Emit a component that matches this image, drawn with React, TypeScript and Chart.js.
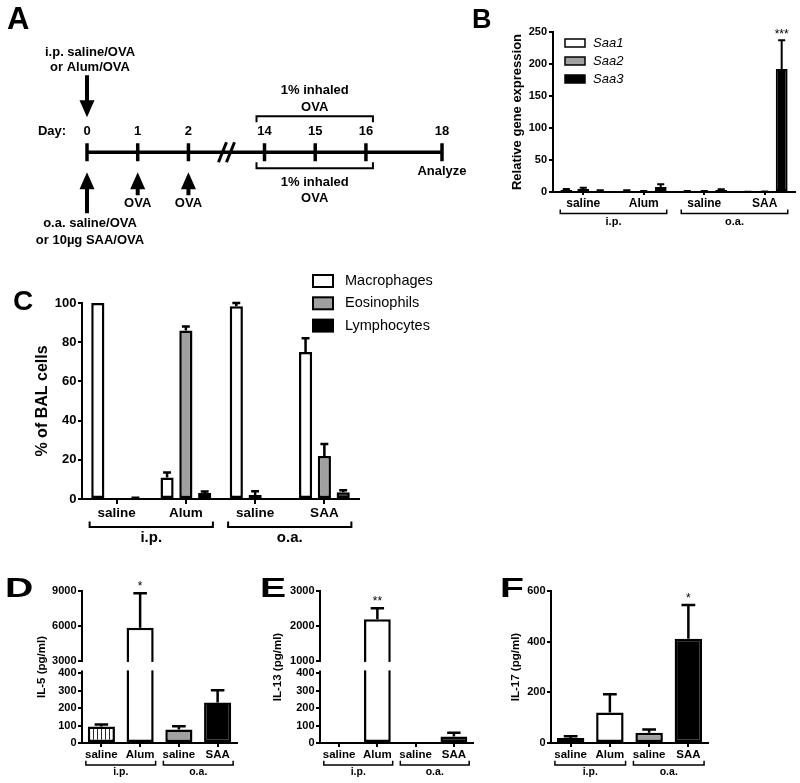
import React, { useEffect, useRef } from 'react';
import { Chart, registerables, LinearScale } from 'chart.js';

Chart.register(...registerables);

const FONT = '"Liberation Sans", Arial, Helvetica, sans-serif';
Chart.defaults.font.family = FONT;
Chart.defaults.color = '#000';

const BLACK = '#000000';
const GREY = '#a0a0a0';
const WHITE = '#ffffff';

/* ================= A: protocol timeline ================= */
const dayLabels = ['0', '1', '2', '14', '15', '16', '18'];
const dayPositions = [0, 1, 2, 3.5, 4.5, 5.5, 7];
const dayAxisLabel = 'Day:';
const ipNote = ['i.p. saline/OVA', 'or Alum/OVA'];
const oaNote = ['o.a. saline/OVA', 'or 10µg SAA/OVA'];
const boostDays = [1, 2];
const boostLabel = 'OVA';
const challengeSpan = [3, 5];
const challengeLabel = ['1% inhaled', 'OVA'];
const analyzeLabel = 'Analyze';

/* ================= shared categories ================= */
const categories = ['saline', 'Alum', 'saline', 'SAA'];
const groupLabels = ['i.p.', 'o.a.'];
const groupSpans = [
  [0, 1],
  [2, 3],
];

/* ================= B: Saa gene expression ================= */
const bSeries = ['Saa1', 'Saa2', 'Saa3'];
const bSaa1 = [3, 2, 1, 0.3];
const bSaa1Err = [1.5, 0.8, 0.4, 0.2];
const bSaa2 = [4.5, 1, 1, 0.6];
const bSaa2Err = [2, 0.5, 0.4, 0.3];
const bSaa3 = [2, 8, 3, 192];
const bSaa3Err = [0.8, 4, 1.2, 45];
const bStars = ['', '', '', '***'];
const bYMax = 250;
const bYStep = 50;
const bYTitle = 'Relative gene expression';

/* ================= C: BAL cells ================= */
const cSeries = ['Macrophages', 'Eosinophils', 'Lymphocytes'];
const cMac = [100, 11, 98.3, 75];
const cMacErr = [0, 2.5, 1.7, 7];
const cEos = [0, 86, 2, 22];
const cEosErr = [0, 2, 2, 6];
const cLym = [0.4, 3, 0, 3.5];
const cLymErr = [0.2, 0.8, 0, 1];
const cYMax = 100;
const cYStep = 20;
const cYTitle = '% of BAL cells';

/* ================= D: IL-5 ================= */
const dValues = [95, 5850, 78, 233];
const dErr = [11, 2950, 18, 70];
const dStars = ['', '*', '', ''];
const dLowerTicks = [0, 100, 200, 300, 400];
const dUpperTicks = [3000, 6000, 9000];
const dYTitle = 'IL-5 (pg/ml)';

/* ================= E: IL-13 ================= */
const eValues = [0, 2190, 0, 38];
const eErr = [0, 320, 0, 21];
const eStars = ['', '**', '', ''];
const eLowerTicks = [0, 100, 200, 300, 400];
const eUpperTicks = [1000, 2000, 3000];
const eYTitle = 'IL-13 (pg/ml)';

/* ================= F: IL-17 ================= */
const fValues = [20, 120, 40, 412];
const fErr = [7, 72, 13, 133];
const fStars = ['', '', '', '*'];
const fYMax = 600;
const fYStep = 200;
const fYTitle = 'IL-17 (pg/ml)';

/* ================= broken linear scale ================= */
class BrokenLinearScale extends LinearScale {
  static id = 'brokenLinear';
  static defaults = LinearScale.defaults;
  buildTicks() {
    const o: any = this.options;
    return (o.breakTicks as number[]).map((v) => ({ value: v }));
  }
  _seg() {
    const o: any = this.options;
    return {
      lo: o.lowerRange as number[],
      up: o.upperRange as number[],
      lf: o.lowerFrac as number,
      uf: o.upperFrac as number,
    };
  }
  getPixelForValue(value: number) {
    const { lo, up, lf, uf } = this._seg();
    const H = this.bottom - this.top;
    const lowH = H * lf;
    const upH = H * uf;
    const gapH = H - lowH - upH;
    if (value <= lo[1]) return this.bottom - ((value - lo[0]) / (lo[1] - lo[0])) * lowH;
    if (value >= up[0]) return this.top + ((up[1] - value) / (up[1] - up[0])) * upH;
    return this.bottom - lowH - ((value - lo[1]) / (up[0] - lo[1])) * gapH;
  }
  getValueForPixel(pixel: number) {
    const { lo, up, lf, uf } = this._seg();
    const H = this.bottom - this.top;
    const lowH = H * lf;
    const upH = H * uf;
    const gapH = H - lowH - upH;
    const fb = this.bottom - pixel;
    if (fb <= lowH) return lo[0] + (fb / lowH) * (lo[1] - lo[0]);
    if (fb >= lowH + gapH) return up[1] - ((pixel - this.top) / upH) * (up[1] - up[0]);
    return lo[1] + ((fb - lowH) / gapH) * (up[0] - lo[1]);
  }
}
Chart.register(BrokenLinearScale as any);

/* ================= helpers ================= */
type Frame = { w: number; h: number; left: number; right: number; top: number; bottom: number };

function hatchPattern(): any {
  const c = document.createElement('canvas');
  c.width = 4;
  c.height = 4;
  const g = c.getContext('2d')!;
  g.fillStyle = WHITE;
  g.fillRect(0, 0, 4, 4);
  g.fillStyle = '#2a2a2a';
  g.fillRect(1, 0, 1, 4);
  return g.createPattern(c, 'repeat') || WHITE;
}

function letterPlugin(letter: string, x: number, baseline: number, size: number, sx = 1) {
  return {
    id: 'panelLetter',
    afterDraw(chart: any) {
      const ctx = chart.ctx;
      ctx.save();
      ctx.font = `bold ${size}px ${FONT}`;
      ctx.fillStyle = BLACK;
      ctx.textAlign = 'left';
      ctx.textBaseline = 'alphabetic';
      ctx.translate(x, baseline);
      ctx.scale(sx, 1);
      ctx.fillText(letter, 0, 0);
      ctx.restore();
    },
  };
}

function legendPlugin(cfg: {
  x: number;
  y0: number;
  dy: number;
  boxW: number;
  boxH: number;
  textX: number;
  font: string;
  lw: number;
}) {
  return {
    id: 'customLegend',
    afterDraw(chart: any) {
      const ctx = chart.ctx;
      ctx.save();
      chart.data.datasets.forEach((ds: any, i: number) => {
        const cy = cfg.y0 + i * cfg.dy;
        ctx.fillStyle = ds.backgroundColor;
        ctx.fillRect(cfg.x, cy - cfg.boxH / 2, cfg.boxW, cfg.boxH);
        ctx.lineWidth = cfg.lw;
        ctx.strokeStyle = BLACK;
        ctx.strokeRect(cfg.x, cy - cfg.boxH / 2, cfg.boxW, cfg.boxH);
        ctx.fillStyle = BLACK;
        ctx.font = cfg.font;
        ctx.textAlign = 'left';
        ctx.textBaseline = 'middle';
        ctx.fillText(ds.label, cfg.textX, cy);
      });
      ctx.restore();
    },
  };
}

function errorPlugin(cfg: {
  capFrac: number;
  lw: number;
  starFont: string;
  starGap: number;
  broken?: { lowerEnd: number; upperStart: number };
}) {
  return {
    id: 'errorBars',
    afterDatasetsDraw(chart: any) {
      const ctx = chart.ctx;
      const y = chart.scales.y;
      const area = chart.chartArea;
      ctx.save();
      if (cfg.broken) {
        const gTop = y.getPixelForValue(cfg.broken.upperStart);
        const gBot = y.getPixelForValue(cfg.broken.lowerEnd);
        ctx.fillStyle = WHITE;
        ctx.fillRect(area.left + 1.5, gTop + 1, area.right - area.left, gBot - gTop - 4);
        ctx.strokeStyle = BLACK;
        ctx.lineWidth = 2;
        ctx.beginPath();
        ctx.moveTo(area.left, area.top - 1);
        ctx.lineTo(area.left, gTop + 1);
        ctx.moveTo(area.left, gBot - 3);
        ctx.lineTo(area.left, area.bottom + 1);
        ctx.stroke();
      }
      ctx.strokeStyle = BLACK;
      ctx.fillStyle = BLACK;
      ctx.lineWidth = cfg.lw;
      chart.data.datasets.forEach((ds: any, di: number) => {
        const meta = chart.getDatasetMeta(di);
        meta.data.forEach((el: any, j: number) => {
          const v = ds.data[j];
          const e = ds.errors ? ds.errors[j] : 0;
          if (v == null) return;
          const top = y.getPixelForValue(v + (e || 0));
          if (e > 0) {
            const cap = el.width * cfg.capFrac;
            ctx.beginPath();
            ctx.moveTo(el.x, el.y);
            ctx.lineTo(el.x, top);
            ctx.moveTo(el.x - cap / 2, top);
            ctx.lineTo(el.x + cap / 2, top);
            ctx.stroke();
          }
          const s = ds.stars ? ds.stars[j] : '';
          if (s) {
            ctx.font = cfg.starFont;
            ctx.textAlign = 'center';
            ctx.textBaseline = 'alphabetic';
            ctx.fillText(s, el.x, top - cfg.starGap);
          }
        });
      });
      ctx.restore();
    },
  };
}

function bracketPlugin(cfg: { endTop: number; line: number; label: number; inset: number; font: string; lw: number }) {
  return {
    id: 'groupBrackets',
    afterDraw(chart: any) {
      const ctx = chart.ctx;
      const x = chart.scales.x;
      const base = chart.chartArea.bottom;
      const step = x.getPixelForValue(1) - x.getPixelForValue(0);
      ctx.save();
      ctx.strokeStyle = BLACK;
      ctx.fillStyle = BLACK;
      ctx.lineWidth = cfg.lw;
      ctx.font = cfg.font;
      ctx.textAlign = 'center';
      ctx.textBaseline = 'middle';
      groupSpans.forEach(([a, b], i) => {
        const x0 = x.getPixelForValue(a) - cfg.inset * step;
        const x1 = x.getPixelForValue(b) + cfg.inset * step;
        ctx.beginPath();
        ctx.moveTo(x0, base + cfg.endTop);
        ctx.lineTo(x0, base + cfg.line);
        ctx.lineTo(x1, base + cfg.line);
        ctx.lineTo(x1, base + cfg.endTop);
        ctx.stroke();
        ctx.fillText(groupLabels[i], (x0 + x1) / 2, base + cfg.label);
      });
      ctx.restore();
    },
  };
}

function xAxis(frame: Frame, catSize: number, tickLen: number, pad: number) {
  return {
    type: 'category',
    offset: true,
    grid: {
      display: true,
      drawOnChartArea: false,
      drawTicks: true,
      tickLength: tickLen,
      offset: false,
      color: BLACK,
      lineWidth: 2,
    },
    border: { display: true, color: BLACK, width: 2 },
    ticks: { color: BLACK, font: { size: catSize, weight: 'bold' }, padding: pad, maxRotation: 0, autoSkip: false },
    afterFit: (s: any) => {
      s.height = frame.h - frame.bottom;
    },
  };
}

function yAxis(
  frame: Frame,
  base: any,
  title: string,
  titleSize: number,
  titleX: number,
  tickSize: number,
  tickLen: number,
  tickPad: number,
  borderOn = true
) {
  const lh = titleSize * 1.2;
  return {
    ...base,
    grid: {
      display: true,
      drawOnChartArea: false,
      drawTicks: true,
      tickLength: tickLen,
      color: BLACK,
      lineWidth: 2,
    },
    border: { display: borderOn, color: BLACK, width: 2 },
    ticks: {
      ...(base.ticks || {}),
      color: BLACK,
      font: { size: tickSize, weight: 'bold' },
      padding: tickPad,
      autoSkip: false,
    },
    title: {
      display: true,
      text: title,
      color: BLACK,
      font: { size: titleSize, weight: 'bold' },
      padding: { top: titleX - lh / 2, bottom: 0 },
    },
    afterFit: (s: any) => {
      s.width = frame.left;
    },
  };
}

function baseOptions(frame: Frame, scales: any) {
  return {
    responsive: false,
    animation: false,
    events: [],
    layout: { padding: { left: 0, top: frame.top, right: frame.w - frame.right, bottom: 0 } },
    plugins: { legend: { display: false }, tooltip: { enabled: false } },
    scales,
  };
}

/* ================= A config ================= */
function arrow(ctx: any, x: number, yTail: number, yTip: number) {
  const headLen = 17;
  const headW = 15;
  const dir = Math.sign(yTip - yTail);
  const yBase = yTip - dir * headLen;
  ctx.lineWidth = 4;
  ctx.beginPath();
  ctx.moveTo(x, yTail);
  ctx.lineTo(x, yBase + dir * 2);
  ctx.stroke();
  ctx.beginPath();
  ctx.moveTo(x - headW / 2, yBase);
  ctx.lineTo(x + headW / 2, yBase);
  ctx.lineTo(x, yTip);
  ctx.closePath();
  ctx.fill();
}

function makeA() {
  const timeline = {
    id: 'timelineNotes',
    afterDatasetsDraw(chart: any) {
      const ctx = chart.ctx;
      const xs = chart.scales.x;
      const ys = chart.scales.y;
      const X = (i: number) => xs.getPixelForValue(dayPositions[i]);
      const y0 = ys.getPixelForValue(0);
      ctx.save();
      ctx.fillStyle = BLACK;
      ctx.strokeStyle = BLACK;
      ctx.font = `bold 13px ${FONT}`;
      ctx.textAlign = 'center';
      ctx.textBaseline = 'middle';
      dayLabels.forEach((d, i) => ctx.fillText(d, X(i), y0 - 21));
      ctx.fillText(dayAxisLabel, X(0) - 35, y0 - 21);
      // break marks
      const xb = (X(2) + X(3)) / 2;
      ctx.lineWidth = 3;
      [-4, 4].forEach((dx) => {
        ctx.beginPath();
        ctx.moveTo(xb + dx - 4, y0 + 10);
        ctx.lineTo(xb + dx + 4, y0 - 10);
        ctx.stroke();
      });
      // i.p. arrow & note
      arrow(ctx, X(0), y0 - 77, y0 - 35);
      ctx.fillText(ipNote[0], X(0) + 3, y0 - 100);
      ctx.fillText(ipNote[1], X(0) + 3, y0 - 85);
      // o.a. arrow & note
      arrow(ctx, X(0), y0 + 61, y0 + 20);
      ctx.fillText(oaNote[0], X(0) + 3, y0 + 71);
      ctx.fillText(oaNote[1], X(0) + 3, y0 + 88);
      // boosts
      boostDays.forEach((i) => {
        arrow(ctx, X(i), y0 + 43, y0 + 20);
        ctx.fillText(boostLabel, X(i), y0 + 51);
      });
      // challenge brackets
      const cx0 = X(challengeSpan[0]) - 8;
      const cx1 = X(challengeSpan[1]) + 7;
      const cMid = (cx0 + cx1) / 2;
      ctx.lineWidth = 2;
      ctx.beginPath();
      ctx.moveTo(cx0, y0 - 30);
      ctx.lineTo(cx0, y0 - 36);
      ctx.lineTo(cx1, y0 - 36);
      ctx.lineTo(cx1, y0 - 30);
      ctx.stroke();
      ctx.fillText(challengeLabel[0], cMid, y0 - 62);
      ctx.fillText(challengeLabel[1], cMid, y0 - 45);
      ctx.beginPath();
      ctx.moveTo(cx0, y0 + 10);
      ctx.lineTo(cx0, y0 + 16);
      ctx.lineTo(cx1, y0 + 16);
      ctx.lineTo(cx1, y0 + 10);
      ctx.stroke();
      ctx.fillText(challengeLabel[0], cMid, y0 + 30);
      ctx.fillText(challengeLabel[1], cMid, y0 + 46);
      // analyze
      ctx.fillText(analyzeLabel, X(dayPositions.length - 1), y0 + 19);
      ctx.restore();
    },
  };
  return {
    type: 'scatter',
    data: {
      datasets: [
        {
          data: dayPositions.map((p) => ({ x: p, y: 0 })),
          showLine: true,
          borderColor: BLACK,
          borderWidth: 3.5,
          pointStyle: 'line',
          pointRadius: 9,
          pointRotation: 90,
          pointBorderWidth: 3.5,
          pointBorderColor: BLACK,
          pointBackgroundColor: BLACK,
          clip: false,
        },
      ],
    },
    options: {
      responsive: false,
      animation: false,
      events: [],
      layout: { padding: { left: 87, right: 28, top: 57, bottom: 3 } },
      plugins: { legend: { display: false }, tooltip: { enabled: false } },
      scales: {
        x: { type: 'linear', display: false, min: dayPositions[0], max: dayPositions[dayPositions.length - 1] },
        y: { type: 'linear', display: false, min: -1, max: 1 },
      },
    },
    plugins: [timeline, letterPlugin('A', 7, 29, 31)],
  };
}

/* ================= B config ================= */
function makeB() {
  const frame: Frame = { w: 330, h: 260, left: 83, right: 325, top: 32, bottom: 192 };
  const common = { borderColor: BLACK, borderWidth: 2, borderSkipped: false, categoryPercentage: 0.84, barPercentage: 0.7 };
  return {
    type: 'bar',
    data: {
      labels: categories,
      datasets: [
        { ...common, label: bSeries[0], data: bSaa1, errors: bSaa1Err, backgroundColor: WHITE },
        { ...common, label: bSeries[1], data: bSaa2, errors: bSaa2Err, backgroundColor: GREY },
        { ...common, label: bSeries[2], data: bSaa3, errors: bSaa3Err, stars: bStars, backgroundColor: BLACK },
      ],
    },
    options: baseOptions(frame, {
      x: xAxis(frame, 12, 3, 1.5),
      y: yAxis(frame, { type: 'linear', min: 0, max: bYMax, ticks: { stepSize: bYStep } }, bYTitle, 13, 47, 11, 4, 2),
    }),
    plugins: [
      errorPlugin({ capFrac: 0.6, lw: 2, starFont: `12px ${FONT}`, starGap: 2 }),
      bracketPlugin({ endTop: 17.5, line: 21.5, label: 30, inset: 0.38, font: `bold 11px ${FONT}`, lw: 1.5 }),
      legendPlugin({ x: 95, y0: 43, dy: 18, boxW: 20, boxH: 8, textX: 123, font: `italic 13px ${FONT}`, lw: 1.5 }),
      letterPlugin('B', 2, 28, 27),
    ],
  };
}

/* ================= C config ================= */
function makeC() {
  const frame: Frame = { w: 470, h: 300, left: 82, right: 359, top: 43, bottom: 239 };
  const common = { borderColor: BLACK, borderWidth: 2.5, borderSkipped: false, categoryPercentage: 0.815, barPercentage: 0.7 };
  return {
    type: 'bar',
    data: {
      labels: categories,
      datasets: [
        { ...common, label: cSeries[0], data: cMac, errors: cMacErr, backgroundColor: WHITE },
        { ...common, label: cSeries[1], data: cEos, errors: cEosErr, backgroundColor: GREY },
        { ...common, label: cSeries[2], data: cLym, errors: cLymErr, backgroundColor: BLACK },
      ],
    },
    options: baseOptions(frame, {
      x: xAxis(frame, 13.5, 5, 1.5),
      y: yAxis(frame, { type: 'linear', min: 0, max: cYMax, ticks: { stepSize: cYStep } }, cYTitle, 16, 43, 13, 4, 1.5),
    }),
    plugins: [
      errorPlugin({ capFrac: 0.6, lw: 2.5, starFont: `12px ${FONT}`, starGap: 2 }),
      bracketPlugin({ endTop: 22.5, line: 28, label: 38.5, inset: 0.39, font: `bold 15px ${FONT}`, lw: 2 }),
      legendPlugin({ x: 313, y0: 21, dy: 22.3, boxW: 20, boxH: 12, textX: 345, font: `14.5px ${FONT}`, lw: 2 }),
      letterPlugin('C', 13, 50, 28),
    ],
  };
}

/* ================= D/E/F configs ================= */
function cytokineChart(
  frame: Frame,
  values: number[],
  errs: number[],
  stars: string[],
  yBase: any,
  title: string,
  titleX: number,
  letter: string,
  letterX: number,
  broken?: { lowerEnd: number; upperStart: number }
) {
  const fills = [hatchPattern(), WHITE, GREY, BLACK];
  return {
    type: 'bar',
    data: {
      labels: categories,
      datasets: [
        {
          label: title,
          data: values,
          errors: errs,
          stars,
          backgroundColor: fills,
          borderColor: BLACK,
          borderWidth: 2.5,
          borderSkipped: false,
          categoryPercentage: 1,
          barPercentage: 0.7,
        },
      ],
    },
    options: baseOptions(frame, {
      x: xAxis(frame, 11.5, 4, 1),
      y: yAxis(frame, yBase, title, 11.5, titleX, 11, 4, 1.5, !broken),
    }),
    plugins: [
      errorPlugin({ capFrac: 0.5, lw: 2.5, starFont: `12px ${FONT}`, starGap: 3, broken }),
      bracketPlugin({ endTop: 17.7, line: 22, label: 28.7, inset: 0.4, font: `bold 10.5px ${FONT}`, lw: 1.5 }),
      letterPlugin(letter, letterX, 27, 28, 1.4),
    ],
  };
}

function makeD() {
  const frame: Frame = { w: 255, h: 213, left: 82, right: 237, top: 21, bottom: 173 };
  return cytokineChart(
    frame,
    dValues,
    dErr,
    dStars,
    {
      type: 'brokenLinear',
      min: dLowerTicks[0],
      max: dUpperTicks[dUpperTicks.length - 1],
      breakTicks: [...dLowerTicks, ...dUpperTicks],
      lowerRange: [dLowerTicks[0], dLowerTicks[dLowerTicks.length - 1]],
      upperRange: [dUpperTicks[0], dUpperTicks[dUpperTicks.length - 1]],
      lowerFrac: 0.458,
      upperFrac: 0.46,
      ticks: { callback: (v: any) => String(v) },
    },
    dYTitle,
    42,
    'D',
    5,
    { lowerEnd: dLowerTicks[dLowerTicks.length - 1], upperStart: dUpperTicks[0] }
  );
}

function makeE() {
  const frame: Frame = { w: 245, h: 213, left: 65, right: 218, top: 21, bottom: 173 };
  return cytokineChart(
    frame,
    eValues,
    eErr,
    eStars,
    {
      type: 'brokenLinear',
      min: eLowerTicks[0],
      max: eUpperTicks[eUpperTicks.length - 1],
      breakTicks: [...eLowerTicks, ...eUpperTicks],
      lowerRange: [eLowerTicks[0], eLowerTicks[eLowerTicks.length - 1]],
      upperRange: [eUpperTicks[0], eUpperTicks[eUpperTicks.length - 1]],
      lowerFrac: 0.458,
      upperFrac: 0.46,
      ticks: { callback: (v: any) => String(v) },
    },
    eYTitle,
    23,
    'E',
    5,
    { lowerEnd: eLowerTicks[eLowerTicks.length - 1], upperStart: eUpperTicks[0] }
  );
}

function makeF() {
  const frame: Frame = { w: 305, h: 213, left: 56, right: 213, top: 21, bottom: 173 };
  return cytokineChart(
    frame,
    fValues,
    fErr,
    fStars,
    { type: 'linear', min: 0, max: fYMax, ticks: { stepSize: fYStep } },
    fYTitle,
    21,
    'F',
    5
  );
}

/* ================= React ================= */
function Panel(props: { left: number; top: number; width: number; height: number; make: () => any }) {
  const ref = useRef<HTMLCanvasElement | null>(null);
  const { left, top, width, height, make } = props;
  useEffect(() => {
    const chart = new Chart(ref.current as HTMLCanvasElement, make());
    return () => chart.destroy();
  }, [make]);
  return (
    <canvas
      ref={ref}
      width={width}
      height={height}
      style={{ position: 'absolute', left, top, width, height, display: 'block' }}
    />
  );
}

export default function App() {
  return (
    <div
      style={{
        position: 'absolute',
        left: 0,
        top: 0,
        width: 800,
        height: 783,
        background: '#fff',
        overflow: 'hidden',
      }}
    >
      <Panel left={0} top={0} width={470} height={260} make={makeA} />
      <Panel left={470} top={0} width={330} height={260} make={makeB} />
      <Panel left={0} top={260} width={470} height={300} make={makeC} />
      <Panel left={0} top={570} width={255} height={213} make={makeD} />
      <Panel left={255} top={570} width={245} height={213} make={makeE} />
      <Panel left={495} top={570} width={305} height={213} make={makeF} />
    </div>
  );
}
